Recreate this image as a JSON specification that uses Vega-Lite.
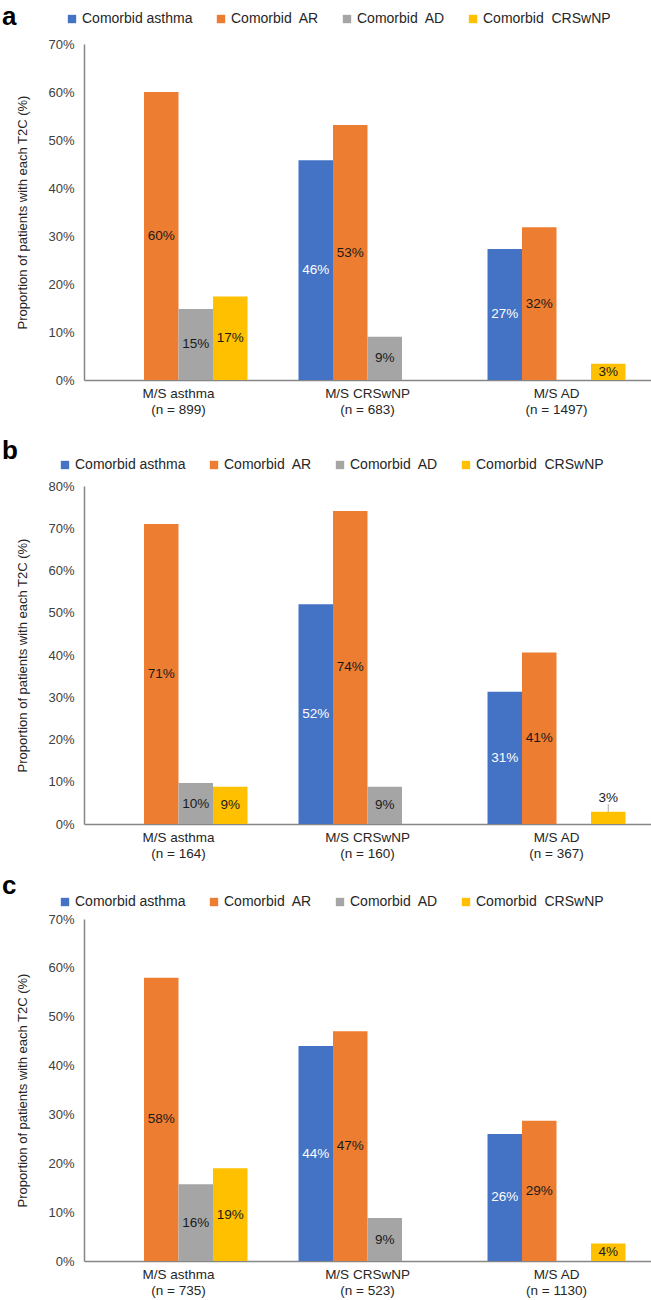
{
  "$schema": "https://vega.github.io/schema/vega-lite/v6.json",
  "padding": {"left": 2, "top": 4, "right": 0, "bottom": 2},
  "background": "white",
  "config": {
    "font": "Liberation Sans",
    "view": {"stroke": null},
    "axisY": {"domain": true, "domainColor": "#868686", "domainWidth": 1.5, "ticks": false, "grid": false, "labelFontSize": 13, "labelColor": "#404040", "labelPadding": 10, "titleFontSize": 13, "titleFontWeight": "normal", "titleColor": "#262626", "titlePadding": 18, "format": ".0%"},
    "axisX": {"domain": true, "domainColor": "#868686", "domainWidth": 1.5, "ticks": false, "grid": false, "labelFontSize": 13.5, "labelColor": "#262626", "labelAngle": 0, "labelPadding": 6, "labelLineHeight": 16, "title": null},
    "legend": {"labelFontSize": 14, "labelColor": "#262626", "symbolType": "square", "symbolSize": 70, "symbolStrokeWidth": 0, "columnPadding": 21, "labelOffset": 3},
    "title": {"fontSize": 26, "fontWeight": "bold", "color": "#000000", "anchor": "start", "frame": "group"}
  },
  "datasets": {
    "a": [
      {"cat": "M/S asthma|(n = 899)", "series": "Comorbid\u00a0 AR", "value": 0.600},
      {"cat": "M/S asthma|(n = 899)", "series": "Comorbid\u00a0 AD", "value": 0.148},
      {"cat": "M/S asthma|(n = 899)", "series": "Comorbid\u00a0 CRSwNP", "value": 0.174},
      {"cat": "M/S CRSwNP|(n = 683)", "series": "Comorbid asthma", "value": 0.458},
      {"cat": "M/S CRSwNP|(n = 683)", "series": "Comorbid\u00a0 AR", "value": 0.531},
      {"cat": "M/S CRSwNP|(n = 683)", "series": "Comorbid\u00a0 AD", "value": 0.090},
      {"cat": "M/S AD|(n = 1497)", "series": "Comorbid asthma", "value": 0.273},
      {"cat": "M/S AD|(n = 1497)", "series": "Comorbid\u00a0 AR", "value": 0.318},
      {"cat": "M/S AD|(n = 1497)", "series": "Comorbid\u00a0 CRSwNP", "value": 0.034}
    ],
    "b": [
      {"cat": "M/S asthma|(n = 164)", "series": "Comorbid\u00a0 AR", "value": 0.710},
      {"cat": "M/S asthma|(n = 164)", "series": "Comorbid\u00a0 AD", "value": 0.097},
      {"cat": "M/S asthma|(n = 164)", "series": "Comorbid\u00a0 CRSwNP", "value": 0.088},
      {"cat": "M/S CRSwNP|(n = 160)", "series": "Comorbid asthma", "value": 0.520},
      {"cat": "M/S CRSwNP|(n = 160)", "series": "Comorbid\u00a0 AR", "value": 0.741},
      {"cat": "M/S CRSwNP|(n = 160)", "series": "Comorbid\u00a0 AD", "value": 0.088},
      {"cat": "M/S AD|(n = 367)", "series": "Comorbid asthma", "value": 0.313},
      {"cat": "M/S AD|(n = 367)", "series": "Comorbid\u00a0 AR", "value": 0.406},
      {"cat": "M/S AD|(n = 367)", "series": "Comorbid\u00a0 CRSwNP", "value": 0.029}
    ],
    "c": [
      {"cat": "M/S asthma|(n = 735)", "series": "Comorbid\u00a0 AR", "value": 0.580},
      {"cat": "M/S asthma|(n = 735)", "series": "Comorbid\u00a0 AD", "value": 0.157},
      {"cat": "M/S asthma|(n = 735)", "series": "Comorbid\u00a0 CRSwNP", "value": 0.190},
      {"cat": "M/S CRSwNP|(n = 523)", "series": "Comorbid asthma", "value": 0.440},
      {"cat": "M/S CRSwNP|(n = 523)", "series": "Comorbid\u00a0 AR", "value": 0.470},
      {"cat": "M/S CRSwNP|(n = 523)", "series": "Comorbid\u00a0 AD", "value": 0.088},
      {"cat": "M/S AD|(n = 1130)", "series": "Comorbid asthma", "value": 0.260},
      {"cat": "M/S AD|(n = 1130)", "series": "Comorbid\u00a0 AR", "value": 0.287},
      {"cat": "M/S AD|(n = 1130)", "series": "Comorbid\u00a0 CRSwNP", "value": 0.036}
    ]
  },
  "resolve": {"scale": {"x": "independent", "y": "independent", "color": "independent", "xOffset": "independent"}, "legend": {"color": "independent"}, "axis": {"x": "independent", "y": "independent"}},
  "spacing": 13,
  "vconcat": [
    {
      "title": {"text": "a", "dx": -82, "dy": 22},
      "width": 567,
      "height": 336,
      "data": {"name": "a"},
      "transform": [{"calculate": "datum.value / 2", "as": "mid"}],
      "encoding": {
        "x": {"field": "cat", "type": "nominal", "sort": ["M/S asthma|(n = 899)", "M/S CRSwNP|(n = 683)", "M/S AD|(n = 1497)"], "scale": {"paddingInner": 0.27, "paddingOuter": 0.135}, "axis": {"labelExpr": "split(datum.label, '|')", "title": " ", "titleFontSize": 8, "titlePadding": 1}},
        "xOffset": {"field": "series", "type": "nominal", "scale": {"domain": ["Comorbid asthma", "Comorbid\u00a0 AR", "Comorbid\u00a0 AD", "Comorbid\u00a0 CRSwNP"]}}
      },
      "layer": [
        {
          "mark": {"type": "bar"},
          "encoding": {
            "y": {"field": "value", "type": "quantitative", "title": "Proportion of patients with each T2C (%)", "scale": {"domain": [0, 0.7]}, "axis": {"values": [0, 0.1, 0.2, 0.3, 0.4, 0.5, 0.6, 0.7]}},
            "color": {"field": "series", "type": "nominal", "scale": {"domain": ["Comorbid asthma", "Comorbid\u00a0 AR", "Comorbid\u00a0 AD", "Comorbid\u00a0 CRSwNP"], "range": ["#4472C4", "#ED7D31", "#A5A5A5", "#FFC000"]}, "legend": {"orient": "none", "legendX": -19, "legendY": -32, "direction": "horizontal", "title": null}}
          }
        },
        {
          "mark": {"type": "text", "fontSize": 13.5, "baseline": "middle"},
          "encoding": {
            "y": {"field": "mid", "type": "quantitative", "title": "Proportion of patients with each T2C (%)"},
            "text": {"field": "value", "type": "quantitative", "format": ".0%"},
            "color": {"condition": {"test": "datum.series === 'Comorbid asthma'", "value": "#ffffff"}, "value": "#1a1a1a"}
          }
        }
      ]
    },
    {
      "title": {"text": "b", "dx": -82, "dy": 10},
      "width": 567,
      "height": 338,
      "data": {"name": "b"},
      "transform": [
        {"calculate": "datum.value < 0.03 ? datum.value + 0.032 : datum.value / 2", "as": "mid"},
        {"calculate": "datum.value + 0.018", "as": "lineTop"}
      ],
      "encoding": {
        "x": {"field": "cat", "type": "nominal", "sort": ["M/S asthma|(n = 164)", "M/S CRSwNP|(n = 160)", "M/S AD|(n = 367)"], "scale": {"paddingInner": 0.27, "paddingOuter": 0.135}, "axis": {"labelExpr": "split(datum.label, '|')"}},
        "xOffset": {"field": "series", "type": "nominal", "scale": {"domain": ["Comorbid asthma", "Comorbid\u00a0 AR", "Comorbid\u00a0 AD", "Comorbid\u00a0 CRSwNP"]}}
      },
      "layer": [
        {
          "mark": {"type": "bar"},
          "encoding": {
            "y": {"field": "value", "type": "quantitative", "title": "Proportion of patients with each T2C (%)", "scale": {"domain": [0, 0.8]}, "axis": {"values": [0, 0.1, 0.2, 0.3, 0.4, 0.5, 0.6, 0.7, 0.8]}},
            "color": {"field": "series", "type": "nominal", "scale": {"domain": ["Comorbid asthma", "Comorbid\u00a0 AR", "Comorbid\u00a0 AD", "Comorbid\u00a0 CRSwNP"], "range": ["#4472C4", "#ED7D31", "#A5A5A5", "#FFC000"]}, "legend": {"orient": "none", "legendX": -26, "legendY": -28, "direction": "horizontal", "title": null}}
          }
        },
        {
          "transform": [{"filter": "datum.value < 0.03"}],
          "mark": {"type": "rule", "color": "#A6A6A6", "strokeWidth": 1},
          "encoding": {
            "y": {"field": "value", "type": "quantitative", "title": "Proportion of patients with each T2C (%)"},
            "y2": {"field": "lineTop"}
          }
        },
        {
          "mark": {"type": "text", "fontSize": 13.5, "baseline": "middle"},
          "encoding": {
            "y": {"field": "mid", "type": "quantitative", "title": "Proportion of patients with each T2C (%)"},
            "text": {"field": "value", "type": "quantitative", "format": ".0%"},
            "color": {"condition": {"test": "datum.series === 'Comorbid asthma'", "value": "#ffffff"}, "value": "#1a1a1a"}
          }
        }
      ]
    },
    {
      "title": {"text": "c", "dx": -82, "dy": 8},
      "width": 567,
      "height": 342,
      "data": {"name": "c"},
      "transform": [{"calculate": "datum.value / 2", "as": "mid"}],
      "encoding": {
        "x": {"field": "cat", "type": "nominal", "sort": ["M/S asthma|(n = 735)", "M/S CRSwNP|(n = 523)", "M/S AD|(n = 1130)"], "scale": {"paddingInner": 0.27, "paddingOuter": 0.135}, "axis": {"labelExpr": "split(datum.label, '|')"}},
        "xOffset": {"field": "series", "type": "nominal", "scale": {"domain": ["Comorbid asthma", "Comorbid\u00a0 AR", "Comorbid\u00a0 AD", "Comorbid\u00a0 CRSwNP"]}}
      },
      "layer": [
        {
          "mark": {"type": "bar"},
          "encoding": {
            "y": {"field": "value", "type": "quantitative", "title": "Proportion of patients with each T2C (%)", "scale": {"domain": [0, 0.7]}, "axis": {"values": [0, 0.1, 0.2, 0.3, 0.4, 0.5, 0.6, 0.7]}},
            "color": {"field": "series", "type": "nominal", "scale": {"domain": ["Comorbid asthma", "Comorbid\u00a0 AR", "Comorbid\u00a0 AD", "Comorbid\u00a0 CRSwNP"], "range": ["#4472C4", "#ED7D31", "#A5A5A5", "#FFC000"]}, "legend": {"orient": "none", "legendX": -26, "legendY": -24, "direction": "horizontal", "title": null}}
          }
        },
        {
          "mark": {"type": "text", "fontSize": 13.5, "baseline": "middle"},
          "encoding": {
            "y": {"field": "mid", "type": "quantitative", "title": "Proportion of patients with each T2C (%)"},
            "text": {"field": "value", "type": "quantitative", "format": ".0%"},
            "color": {"condition": {"test": "datum.series === 'Comorbid asthma'", "value": "#ffffff"}, "value": "#1a1a1a"}
          }
        }
      ]
    }
  ]
}
